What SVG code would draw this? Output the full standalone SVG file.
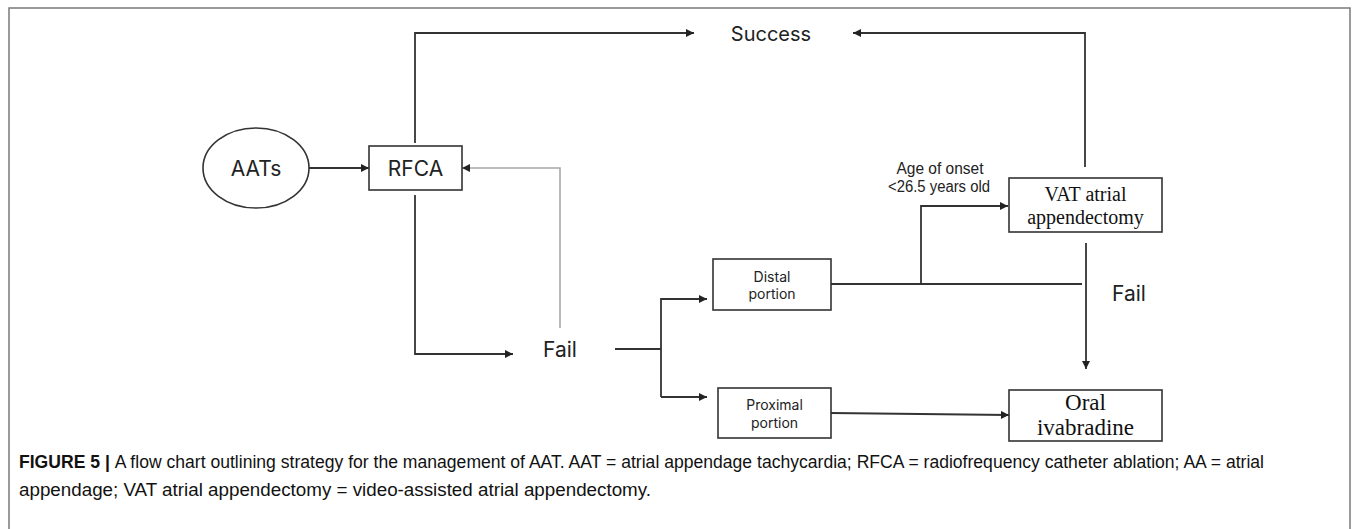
<svg xmlns="http://www.w3.org/2000/svg" width="1355" height="529" viewBox="0 0 1355 529">
<style>
.frame{fill:none;stroke:#7a7a7a;stroke-width:1.5}
.box{fill:#fff;stroke:#333;stroke-width:1.6}
.c{fill:none;stroke:#333;stroke-width:1.8}
.g{fill:none;stroke:#a8a8a8;stroke-width:1.6}
.sans{font-family:Inter,"Noto Sans","Liberation Sans",sans-serif;fill:#222}
.serif{font-family:"Liberation Serif","Times New Roman",serif;fill:#111}
.narrow{font-family:"Liberation Sans Narrow","Liberation Sans",Arial,sans-serif;fill:#222}
.cap{font-family:"Liberation Sans Narrow","Liberation Sans",Arial,sans-serif;fill:#111;font-size:17.5px}
</style>
<defs>
<marker id="ah" viewBox="0 0 10 10" refX="10" refY="5" markerWidth="9" markerHeight="8" markerUnits="userSpaceOnUse" orient="auto">
<path d="M0,0 L10,5 L0,10 Z" fill="#222"/>
</marker>
</defs>
<rect width="1355" height="529" fill="#fff"/>
<path class="frame" d="M9,540 V8 H1350 V540"/>

<g id="connectors">
<line class="c" x1="309" y1="168" x2="369" y2="168" marker-end="url(#ah)"/>
<path class="c" d="M415,143 V33 H694" marker-end="url(#ah)"/>
<path class="c" d="M415,195 V354 H513" marker-end="url(#ah)"/>
<path class="g" d="M560,328 V168 H462" marker-end="url(#ah)"/>
<path class="c" d="M615,349 H661"/>
<path class="c" d="M707,299 H661 V397"/>
<line class="c" x1="661" y1="299" x2="707" y2="299" marker-end="url(#ah)"/>
<line class="c" x1="661" y1="397" x2="707" y2="397" marker-end="url(#ah)"/>
<path class="c" d="M831,284 H1082"/>
<path class="c" d="M921,284 V206 H1008" marker-end="url(#ah)"/>
<path class="c" d="M1085,167 V33 H853" marker-end="url(#ah)"/>
<line class="c" x1="1086" y1="243" x2="1086" y2="369" marker-end="url(#ah)"/>
<line class="c" x1="831" y1="413" x2="1009" y2="415" marker-end="url(#ah)"/>
</g>

<g id="aats">
<ellipse class="box" cx="256" cy="168" rx="53" ry="40"/>
<text class="sans" x="256" y="176" font-size="21" text-anchor="middle">AATs</text>
</g>
<g id="rfca">
<rect class="box" x="369" y="146" width="93" height="44"/>
<text class="sans" x="415.5" y="176" font-size="21" text-anchor="middle">RFCA</text>
</g>
<g id="success">
<text class="sans" x="771" y="41" font-size="20" text-anchor="middle">Success</text>
</g>
<g id="fail1">
<text class="sans" x="560" y="357" font-size="21" text-anchor="middle">Fail</text>
</g>
<g id="distal">
<rect class="box" x="713" y="259" width="118" height="51"/>
<text class="sans" x="772" y="282" font-size="14" text-anchor="middle">Distal</text>
<text class="sans" x="772" y="299" font-size="14" text-anchor="middle">portion</text>
</g>
<g id="proximal">
<rect class="box" x="718" y="388" width="113" height="50"/>
<text class="sans" x="774.5" y="410" font-size="14" text-anchor="middle">Proximal</text>
<text class="sans" x="774.5" y="428" font-size="14" text-anchor="middle">portion</text>
</g>
<g id="age-label">
<text class="narrow" x="940" y="174" font-size="16" text-anchor="middle" textLength="87" lengthAdjust="spacingAndGlyphs">Age of onset</text>
<text class="narrow" x="939" y="192" font-size="16" text-anchor="middle" textLength="102" lengthAdjust="spacingAndGlyphs">&lt;26.5 years old</text>
</g>
<g id="vat">
<rect class="box" x="1009" y="178" width="153" height="54"/>
<text class="serif" x="1085.5" y="201" font-size="20" text-anchor="middle">VAT atrial</text>
<text class="serif" x="1085.5" y="224" font-size="20" text-anchor="middle">appendectomy</text>
</g>
<g id="fail2">
<text class="sans" x="1129" y="301" font-size="21" text-anchor="middle">Fail</text>
</g>
<g id="oral">
<rect class="box" x="1009" y="390" width="153" height="51"/>
<text class="serif" x="1085.5" y="410" font-size="23" text-anchor="middle">Oral</text>
<text class="serif" x="1085.5" y="435" font-size="23" text-anchor="middle">ivabradine</text>
</g>

<g id="caption">
<text class="cap" x="19" y="468" textLength="1245" lengthAdjust="spacingAndGlyphs"><tspan font-weight="bold">FIGURE 5 | </tspan>A flow chart outlining strategy for the management of AAT. AAT = atrial appendage tachycardia; RFCA = radiofrequency catheter ablation; AA = atrial</text>
<text class="cap" x="19" y="496" textLength="632" lengthAdjust="spacingAndGlyphs">appendage; VAT atrial appendectomy = video-assisted atrial appendectomy.</text>
</g>
</svg>
